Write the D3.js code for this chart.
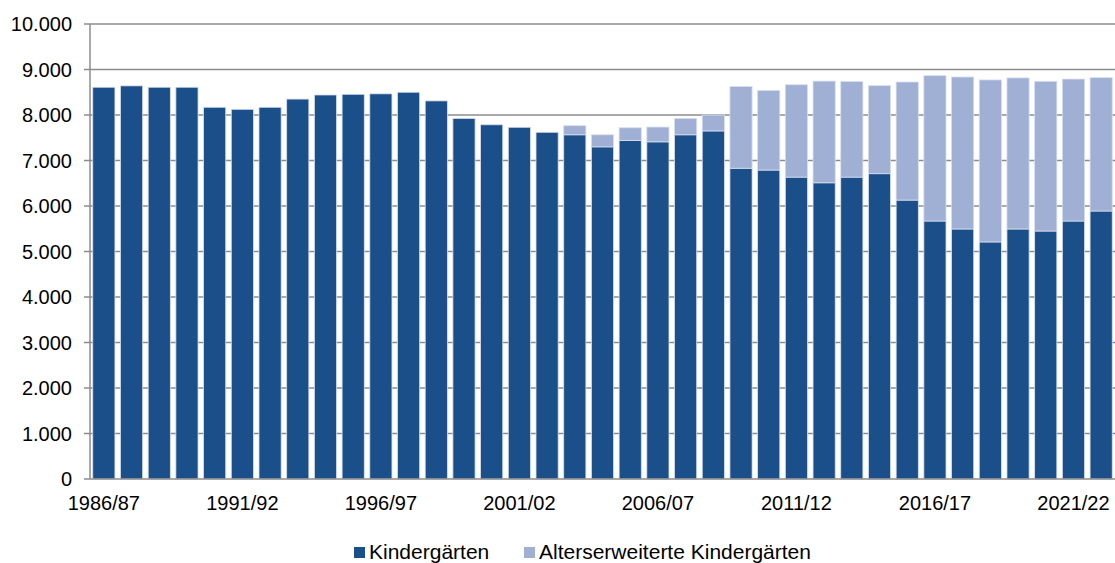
<!DOCTYPE html>
<html><head><meta charset="utf-8">
<script src="https://cdn.jsdelivr.net/npm/d3@7"></script>
<style>
body{margin:0;background:#fff;}
svg text{font-family:"Liberation Sans",Arial,sans-serif;fill:#000;}
</style></head>
<body><svg id="c" width="1115" height="563"></svg>
<script>
const years = ["1986/87","1987/88","1988/89","1989/90","1990/91","1991/92","1992/93","1993/94","1994/95","1995/96","1996/97","1997/98","1998/99","1999/00","2000/01","2001/02","2002/03","2003/04","2004/05","2005/06","2006/07","2007/08","2008/09","2009/10","2010/11","2011/12","2012/13","2013/14","2014/15","2015/16","2016/17","2017/18","2018/19","2019/20","2020/21","2021/22","2022/23"];
const kindergaerten = [8610,8640,8610,8610,8170,8125,8170,8350,8440,8455,8465,8500,8310,7925,7785,7730,7620,7565,7300,7440,7410,7565,7650,6830,6790,6635,6510,6635,6710,6130,5670,5495,5210,5495,5450,5670,5890];
const alterserweitert = [0,0,0,0,0,0,0,0,0,0,0,0,0,0,0,0,0,200,265,280,325,360,350,1795,1750,2030,2235,2100,1935,2595,3195,3340,3560,3320,3290,3120,2930];
const yTicks = [0,1000,2000,3000,4000,5000,6000,7000,8000,9000,10000];
const seriesNames = ["Kindergärten","Alterserweiterte Kindergärten"];
const colors = ["#1b4f8a","#a0afd4"];

const svg = d3.select("#c");
const L = 90, R = 1115, T = 24, B = 479;
const x = d3.scaleBand().domain(years).range([L, R]).paddingInner(0.2).paddingOuter(0.1);
const y = d3.scaleLinear().domain([0, 10000]).range([B, T]);
const fmt = v => d3.format(",")(v).replace(/,/g, ".");

// gridlines
svg.append("g").selectAll("line").data(yTicks.filter(d => d > 0)).join("line")
  .attr("x1", L - 6).attr("x2", R).attr("y1", d => y(d)).attr("y2", d => y(d))
  .attr("stroke", "#8c8c8c").attr("stroke-width", 1.5);

const data = years.map((yr, i) => ({yr, k: kindergaerten[i], a: alterserweitert[i]}));
const stack = d3.stack().keys(["k", "a"])(data);
svg.append("g").selectAll("g").data(stack).join("g")
  .attr("fill", (d, i) => colors[i])
  .selectAll("rect").data(d => d.filter(p => p[1] > p[0])).join("rect")
  .attr("x", d => x(d.data.yr)).attr("width", x.bandwidth())
  .attr("y", d => y(d[1])).attr("height", d => y(d[0]) - y(d[1]))
  .attr("stroke", "#d6deee").attr("stroke-width", 0.8);

// axes lines
svg.append("line").attr("x1", L).attr("x2", L).attr("y1", T).attr("y2", B)
  .attr("stroke", "#8c8c8c").attr("stroke-width", 1.5);
svg.append("line").attr("x1", L - 6).attr("x2", R).attr("y1", B).attr("y2", B)
  .attr("stroke", "#8c8c8c").attr("stroke-width", 1.5);

// y labels
svg.append("g").selectAll("text").data(yTicks).join("text")
  .attr("x", 72).attr("y", d => y(d)).attr("dy", "0.36em")
  .attr("text-anchor", "end").attr("font-size", 20).text(fmt);

// x labels
svg.append("g").selectAll("text").data(years.filter((d, i) => i % 5 === 0)).join("text")
  .attr("x", d => x(d) + x.bandwidth() / 2).attr("y", 510)
  .attr("text-anchor", "middle").attr("font-size", 20).text(d => d);

// legend
const leg = [{n: seriesNames[0], c: colors[0], x: 354}, {n: seriesNames[1], c: colors[1], x: 524}];
const lg = svg.append("g").selectAll("g").data(leg).join("g");
lg.append("rect").attr("x", d => d.x).attr("y", 547).attr("width", 11).attr("height", 11).attr("fill", d => d.c);
lg.append("text").attr("x", d => d.x + 15).attr("y", 559).attr("font-size", 21).text(d => d.n);
</script></body></html>
